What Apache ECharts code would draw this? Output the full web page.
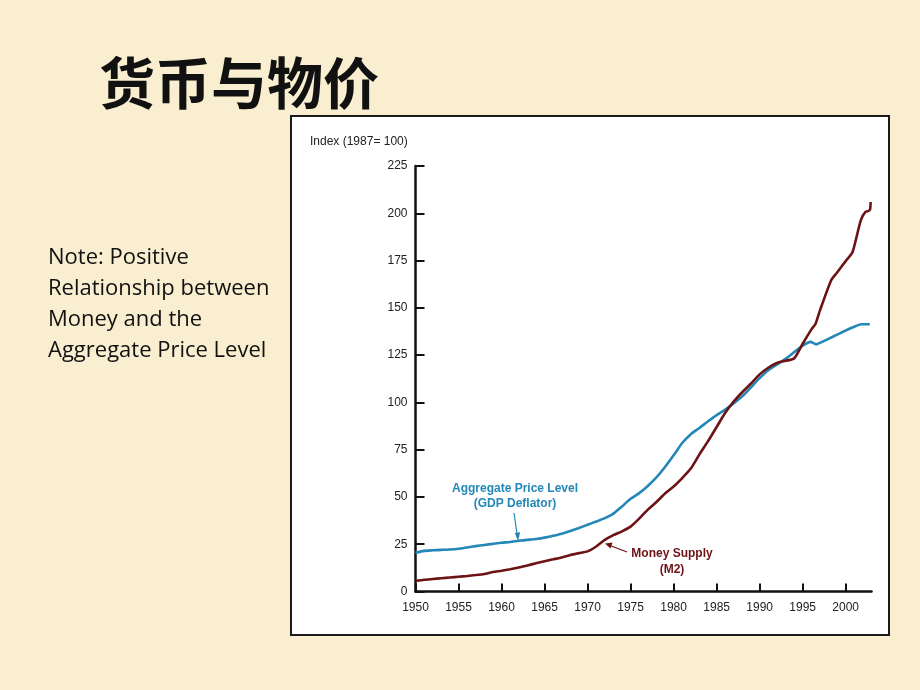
<!DOCTYPE html>
<html>
<head>
<meta charset="utf-8">
<script src="https://cdn.jsdelivr.net/npm/echarts@6/dist/echarts.min.js"></script>
<style>
html,body{margin:0;padding:0;background:#f9eed0;}
#c{width:920px;height:690px;}
</style>
</head>
<body>
<div id="c"></div>
<script>
// ---- data ----
const titleText = '货币与物价';
const noteLines = ['Note: Positive', 'Relationship between', 'Money and the', 'Aggregate Price Level'];
const yAxisTitle = 'Index (1987= 100)';
const xTickYears = [1950, 1955, 1960, 1965, 1970, 1975, 1980, 1985, 1990, 1995, 2000];
const yTicks = [0, 25, 50, 75, 100, 125, 150, 175, 200, 225];

const deflatorYears = [1950,1951,1952,1953,1954,1955,1956,1957,1958,1959,1960,1961,1962,1963,1964,1965,1966,1967,1968,1969,1970,1971,1972,1973,1974,1975,1976,1977,1978,1979,1980,1981,1982,1983,1984,1985,1986,1987,1988,1989,1990,1991,1992,1993,1994,1995,1995.9,1996.6,1997,1998,1999,2000,2001,2001.8,2002.8];
const deflatorValues = [20.5,21.5,21.8,22.0,22.2,22.6,23.3,24.0,24.6,25.2,25.8,26.2,26.8,27.3,27.8,28.5,29.5,30.6,32.0,33.6,35.3,37.0,38.8,41.2,45.0,49.0,52.0,55.8,60.3,65.8,72.0,78.5,83.2,86.5,90.0,93.3,96.2,99.5,103.3,108.0,112.8,117.0,120.0,123.0,126.5,130.0,132.0,130.7,131.5,133.6,135.8,138.0,140.0,141.3,141.3];

const m2Years = [1950,1951,1952,1953,1954,1955,1956,1957,1958,1959,1960,1961,1962,1963,1964,1965,1966,1967,1968,1969,1970,1971,1972,1973,1974,1975,1976,1977,1978,1979,1980,1981,1982,1983,1984,1985,1986,1987,1988,1989,1990,1991,1992,1993,1994,1995,1996,1996.5,1997,1998.3,1999,2000,2000.8,2001.75,2002.3,2002.8,2002.9];
const m2Values = [5.6,6.2,6.6,7.0,7.4,7.8,8.2,8.7,9.3,10.3,11.0,11.8,12.7,13.8,14.9,16.0,17.0,18.0,19.3,20.3,21.2,23.8,27.3,29.8,31.8,34.3,38.5,43.3,47.3,51.8,55.5,60.0,65.0,72.5,79.5,87.0,94.5,100.5,105.5,110.0,114.8,118.3,120.8,122.0,123.2,131.0,138.5,141.6,148.5,164.5,168.7,174.7,179.5,196.3,200.7,201.6,206.0];

const deflatorLabel = ['Aggregate Price Level', '(GDP Deflator)'];
const m2Label = ['Money Supply', '(M2)'];

// ---- styles ----
const BLUE = '#2387b8';
const RED = '#6d1316';
const AX = 'Liberation Sans, Arial, sans-serif';

const zip = (xs, ys) => xs.map((x, i) => [x, ys[i]]);

const chart = echarts.init(document.getElementById('c'), null, {renderer: 'canvas'});

const graphics = [
  {type: 'rect', z: -10, shape: {x: 291, y: 116, width: 598, height: 519},
   style: {fill: '#ffffff', stroke: '#1a1a1a', lineWidth: 2}},
  {type: 'text', left: 99, top: 55, z: 10,
   style: {text: titleText, font: 'bold 56px "Noto Sans CJK SC"', fill: '#111',
           shadowColor: 'rgba(0,0,0,0.25)', shadowOffsetX: 2, shadowOffsetY: 2, shadowBlur: 2}},
  {type: 'text', left: 310, top: 136, z: 10,
   style: {text: yAxisTitle, font: '12px ' + AX, fill: '#222'}},
  // annotation: deflator
  {type: 'text', x: 515, y: 496.5, z: 10,
   style: {text: deflatorLabel.join('\n'), font: 'bold 12px ' + AX, fill: BLUE,
           align: 'center', verticalAlign: 'middle', lineHeight: 15}},
  {type: 'line', z: 10, shape: {x1: 514, y1: 513, x2: 517.5, y2: 537},
   style: {stroke: BLUE, lineWidth: 1.2}},
  {type: 'polygon', z: 10, shape: {points: [[518, 541], [514.8, 533], [520.2, 532.3]]},
   style: {fill: BLUE}},
  // annotation: M2
  {type: 'text', x: 672, y: 561.5, z: 10,
   style: {text: m2Label.join('\n'), font: 'bold 12px ' + AX, fill: RED,
           align: 'center', verticalAlign: 'middle', lineHeight: 16}},
  {type: 'line', z: 10, shape: {x1: 627, y1: 552, x2: 610, y2: 545.5},
   style: {stroke: RED, lineWidth: 1.2}},
  {type: 'polygon', z: 10, shape: {points: [[605, 543.5], [612.5, 542.5], [610.5, 548.5]]},
   style: {fill: RED}}
];
noteLines.forEach((t, i) => {
  graphics.push({type: 'text', x: 48, y: 258 + i * 31, z: 10,
    style: {text: t, font: '22px "Open Sans", Lato, sans-serif', fill: '#111', verticalAlign: 'middle'}});
});

chart.setOption({
  backgroundColor: '#f9eed0',
  animation: false,
  graphic: graphics,
  grid: {left: 415.5, right: 48.5, top: 166, bottom: 98.5, containLabel: false},
  xAxis: {
    type: 'value', min: 1950, max: 2003, interval: 5,
    splitLine: {show: false},
    axisLine: {onZero: false, lineStyle: {color: '#111', width: 2.5}},
    axisTick: {inside: true, length: 8, lineStyle: {color: '#111', width: 2}, customValues: xTickYears},
    axisLabel: {customValues: xTickYears, color: '#222', fontFamily: AX, fontSize: 12, margin: 10,
                formatter: v => String(v)}
  },
  yAxis: {
    type: 'value', min: 0, max: 225, interval: 25,
    splitLine: {show: false},
    axisLine: {show: true, lineStyle: {color: '#111', width: 2.5}},
    axisTick: {show: true, inside: true, length: 9, lineStyle: {color: '#111', width: 2}, customValues: yTicks},
    axisLabel: {customValues: yTicks, color: '#222', fontFamily: AX, fontSize: 12, margin: 8}
  },
  series: [
    {name: 'Aggregate Price Level (GDP Deflator)', type: 'line', data: zip(deflatorYears, deflatorValues),
     showSymbol: false, smooth: 0.2, lineStyle: {color: BLUE, width: 2.6}, z: 3},
    {name: 'Money Supply (M2)', type: 'line', data: zip(m2Years, m2Values),
     showSymbol: false, smooth: 0.2, lineStyle: {color: RED, width: 2.6}, z: 4}
  ]
});
</script>
</body>
</html>
